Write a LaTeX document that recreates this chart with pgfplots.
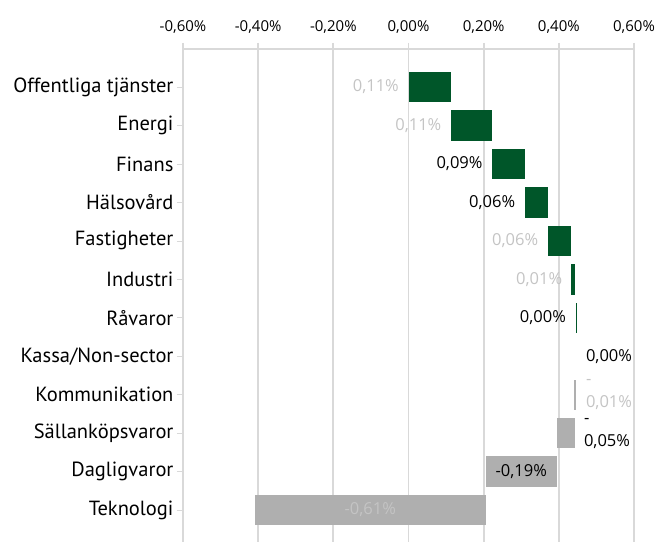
\documentclass[border=0pt]{standalone}
\usepackage{pgfplots}
\pgfplotsset{compat=1.18}
\usepackage{fontspec}
\setmainfont{PT Sans}
\newfontfamily\numfont{Open Sans}
\definecolor{bargreen}{RGB}{0,86,41}
\definecolor{bargrey}{RGB}{175,175,175}
\definecolor{lbgrey}{RGB}{196,196,196}
\definecolor{gridgrey}{RGB}{217,217,217}
\begin{document}
\begin{tikzpicture}
\begin{axis}[
  name=ax,
  scale only axis, width=451pt, height=493pt,
  xmin=-0.6, xmax=0.6, ymin=0.17, ymax=12.99,
  axis x line*=top, axis y line*=left,
  axis line style={draw=gridgrey, line width=1.6pt, -},
  xtick={-0.6,-0.4,-0.2,0,0.2,0.4,0.6},
  xticklabels={{-0,60\%},{-0,40\%},{-0,20\%},{0,00\%},{0,20\%},{0,40\%},{0,60\%}},
  ytick={1,...,12},
  yticklabels={Teknologi,Dagligvaror,Sällanköpsvaror,Kommunikation,Kassa/Non-sector,Råvaror,Industri,Fastigheter,Hälsovård,Finans,Energi,Offentliga tjänster},
  xmajorgrids, grid style={draw=gridgrey, line width=1.8pt},
  tick align=outside,
  x tick style={draw=gridgrey, line width=1.8pt},
  y tick style={draw=gridgrey, line width=0.7pt},
  major tick length=6pt,
  xticklabel style={font=\numfont\fontsize{15}{17}\selectfont, text=black, yshift=6pt},
  yticklabel style={font=\fontsize{20.5}{23}\selectfont, text=black},
  clip=false,
]
% positive contributions (green): start, end, row
\addplot[draw=none, fill=bargreen] coordinates {(0,11.605) (0.113,11.605) (0.113,12.395) (0,12.395)} -- cycle;
\addplot[draw=none, fill=bargreen] coordinates {(0.113,10.605) (0.2226,10.605) (0.2226,11.395) (0.113,11.395)} -- cycle;
\addplot[draw=none, fill=bargreen] coordinates {(0.2226,9.605) (0.3096,9.605) (0.3096,10.395) (0.2226,10.395)} -- cycle;
\addplot[draw=none, fill=bargreen] coordinates {(0.3096,8.605) (0.3707,8.605) (0.3707,9.395) (0.3096,9.395)} -- cycle;
\addplot[draw=none, fill=bargreen] coordinates {(0.3707,7.605) (0.4319,7.605) (0.4319,8.395) (0.3707,8.395)} -- cycle;
\addplot[draw=none, fill=bargreen] coordinates {(0.4319,6.605) (0.4439,6.605) (0.4439,7.395) (0.4319,7.395)} -- cycle;
\addplot[draw=none, fill=bargreen] coordinates {(0.4445,5.605) (0.4470,5.605) (0.4470,6.395) (0.4445,6.395)} -- cycle;
% negative contributions (grey)
\addplot[draw=none, fill=bargrey] coordinates {(0.4415,3.605) (0.4445,3.605) (0.4445,4.395) (0.4415,4.395)} -- cycle;
\addplot[draw=none, fill=bargrey] coordinates {(0.395,2.605) (0.4425,2.605) (0.4425,3.395) (0.395,3.395)} -- cycle;
\addplot[draw=none, fill=bargrey] coordinates {(0.205,1.605) (0.395,1.605) (0.395,2.395) (0.205,2.395)} -- cycle;
\addplot[draw=none, fill=bargrey] coordinates {(-0.4085,0.605) (0.205,0.605) (0.205,1.395) (-0.4085,1.395)} -- cycle;

\tikzset{lbl/.style={font=\numfont\fontsize{16.5}{23}\selectfont, inner sep=0pt}}
\node[lbl, text=lbgrey, anchor=east, xshift=-9.5pt] at (axis cs:0,12) {0,11\%};
\node[lbl, text=lbgrey, anchor=east, xshift=-9.5pt] at (axis cs:0.113,11) {0,11\%};
\node[lbl, text=black, anchor=east, xshift=-9.5pt] at (axis cs:0.2226,10) {0,09\%};
\node[lbl, text=black, anchor=east, xshift=-9.5pt] at (axis cs:0.3096,9) {0,06\%};
\node[lbl, text=lbgrey, anchor=east, xshift=-9.5pt] at (axis cs:0.3707,8) {0,06\%};
\node[lbl, text=lbgrey, anchor=east, xshift=-8.5pt] at (axis cs:0.4319,7) {0,01\%};
\node[lbl, text=black, anchor=east, xshift=-9.5pt] at (axis cs:0.4445,6) {0,00\%};
\node[lbl, text=black, anchor=west] at (axis cs:0.4718,5) {0,00\%};
\node[lbl, text=lbgrey, anchor=west, align=left] at (axis cs:0.4718,4) {-\\0,01\%};
\node[lbl, text=black, anchor=west, align=left] at (axis cs:0.4665,3) {-\\0,05\%};
\node[lbl, text=black] at (axis cs:0.3,2) {-0,19\%};
\node[lbl, text=lbgrey] at (axis cs:-0.1018,1) {-0,61\%};
\end{axis}
\pgfresetboundingbox
\path (ax.south west) ++(-183pt,0pt) coordinate (bl);
\path (ax.north east) ++(23pt,49pt) coordinate (tr);
\useasboundingbox (bl) rectangle (tr);
\end{tikzpicture}
\end{document}
